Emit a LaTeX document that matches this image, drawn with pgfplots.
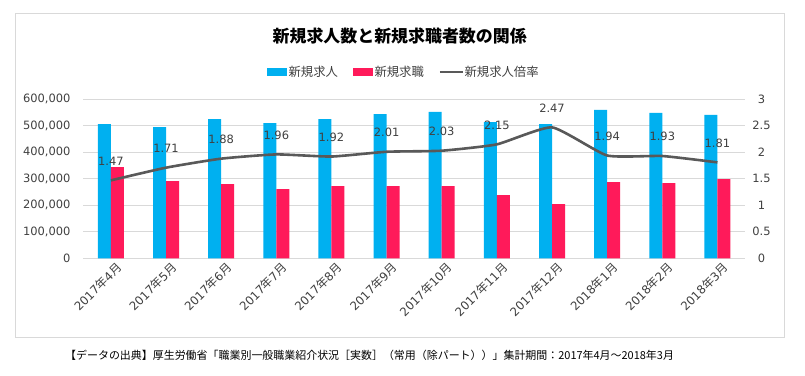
\documentclass[border=0pt]{standalone}
\usepackage{pgfplots}
\pgfplotsset{compat=1.18}
\usepackage{fontspec}
\setmainfont{DejaVu Sans}
\newfontfamily\jp{Noto Sans CJK JP}
\definecolor{cblue}{HTML}{00B0F0}
\definecolor{cred}{HTML}{FF1A5A}
\definecolor{cline}{HTML}{595959}
\definecolor{cgrid}{HTML}{D9D9D9}
\definecolor{ctext}{HTML}{404040}
\newcommand{\ym}[2]{#1{\jp 年}#2{\jp 月}}
\begin{document}
\begin{tikzpicture}
\useasboundingbox (0bp,0bp) rectangle (805bp,376bp);
\fill[white] (0bp,0bp) rectangle (805bp,376bp);
\draw[cgrid, line width=1bp] (15.5bp,362.7bp) rectangle (784.3bp,38.7bp);
\node[font=\jp\bfseries\fontsize{17}{20}\selectfont, text=black] at (399.7bp,340bp) {新規求人数と新規求職者数の関係};
\begin{axis}[
  at={(83.3bp,117.7bp)}, anchor=south west,
  scale only axis, width=661.7bp, height=159bp,
  xmin=-0.5, xmax=11.5, ymin=0, ymax=600000,
  ybar=0pt, bar width=13bp,
  axis line style={draw=none},
  ymajorgrids, grid style={cgrid, line width=1bp},
  ytick={0,100000,200000,300000,400000,500000,600000},
  scaled y ticks=false,
  /pgf/number format/fixed,
  /pgf/number format/1000 sep={,},
  /pgf/number format/assume math mode=true,
  major tick length=0pt,
  xtick={0,1,2,3,4,5,6,7,8,9,10,11},
  xticklabels={\ym{2017}{4},\ym{2017}{5},\ym{2017}{6},\ym{2017}{7},\ym{2017}{8},\ym{2017}{9},\ym{2017}{10},\ym{2017}{11},\ym{2017}{12},\ym{2018}{1},\ym{2018}{2},\ym{2018}{3}},
  xticklabel style={rotate=45, anchor=east, inner sep=0pt, yshift=-11bp, xshift=1bp, font=\fontsize{11.8}{13}\selectfont, text=ctext},
  yticklabel style={anchor=east, inner sep=0pt, xshift=-12.6bp, font=\fontsize{11.5}{13}\selectfont, text=ctext},
  legend columns=3,
  legend style={at={(0.483,1.172)}, anchor=center, draw=none, fill=none,
    font=\jp\fontsize{12.4}{14}\selectfont, text=ctext,
    /tikz/column 1/.style={column sep=1bp},
    /tikz/column 2/.style={column sep=14bp},
    /tikz/column 3/.style={column sep=1bp},
    /tikz/column 4/.style={column sep=14bp},
    /tikz/column 5/.style={column sep=0bp},
    inner sep=0pt, nodes={inner sep=0.5bp}},
]
\addplot[fill=cblue, draw=none, legend image code/.code={\fill[cblue] (0bp,-4bp) rectangle (20.5bp,4bp);}] coordinates {
(0,506700) (1,495400) (2,525600) (3,510500) (4,525600) (5,544500)
(6,552100) (7,514300) (8,506700) (9,559700) (10,548300) (11,540800)};
\addlegendentry{新規求人}
\addplot[fill=cred, draw=none, legend image code/.code={\fill[cred] (0bp,-4bp) rectangle (20.5bp,4bp);}] coordinates {
(0,344100) (1,291200) (2,279800) (3,260900) (4,272300) (5,272300)
(6,272300) (7,238200) (8,204200) (9,287400) (10,283600) (11,298700)};
\addlegendentry{新規求職}
\addlegendimage{legend image code/.code={\draw[cline, line width=2.6bp] (0bp,0bp) -- (23bp,0bp);}}
\addlegendentry{新規求人倍率}
\end{axis}
\begin{axis}[
  at={(83.3bp,117.7bp)}, anchor=south west,
  scale only axis, width=661.7bp, height=159bp,
  xmin=-0.5, xmax=11.5, ymin=0, ymax=3,
  axis line style={draw=none},
  xtick=\empty,
  ytick={0,0.5,1,1.5,2,2.5,3},
  yticklabel pos=right,
  major tick length=0pt,
  /pgf/number format/assume math mode=true,
  yticklabel style={anchor=center, inner sep=0pt, xshift=16.5bp, font=\fontsize{11.5}{13}\selectfont, text=ctext},
  clip=false,
]
\addplot[cline, line width=2.6bp, smooth, tension=0.3, mark=none,
  nodes near coords={\pgfmathprintnumber[fixed,fixed zerofill,precision=2]{\pgfplotspointmeta}},
  every node near coord/.append style={anchor=center, yshift=19.5bp, font=\fontsize{11.5}{13}\selectfont, text=ctext}]
 coordinates {
(0,1.47) (1,1.71) (2,1.88) (3,1.96) (4,1.92) (5,2.01)
(6,2.03) (7,2.15) (8,2.47) (9,1.94) (10,1.93) (11,1.81)};
\end{axis}
\node[anchor=west, font=\jp\fontsize{11}{13}\selectfont, inner sep=0pt, text=black] at (65bp,21bp) {【データの出典】厚生労働省「職業別一般職業紹介状況［実数］（常用（除パート））」集計期間：2017年4月～2018年3月};
\end{tikzpicture}
\end{document}
